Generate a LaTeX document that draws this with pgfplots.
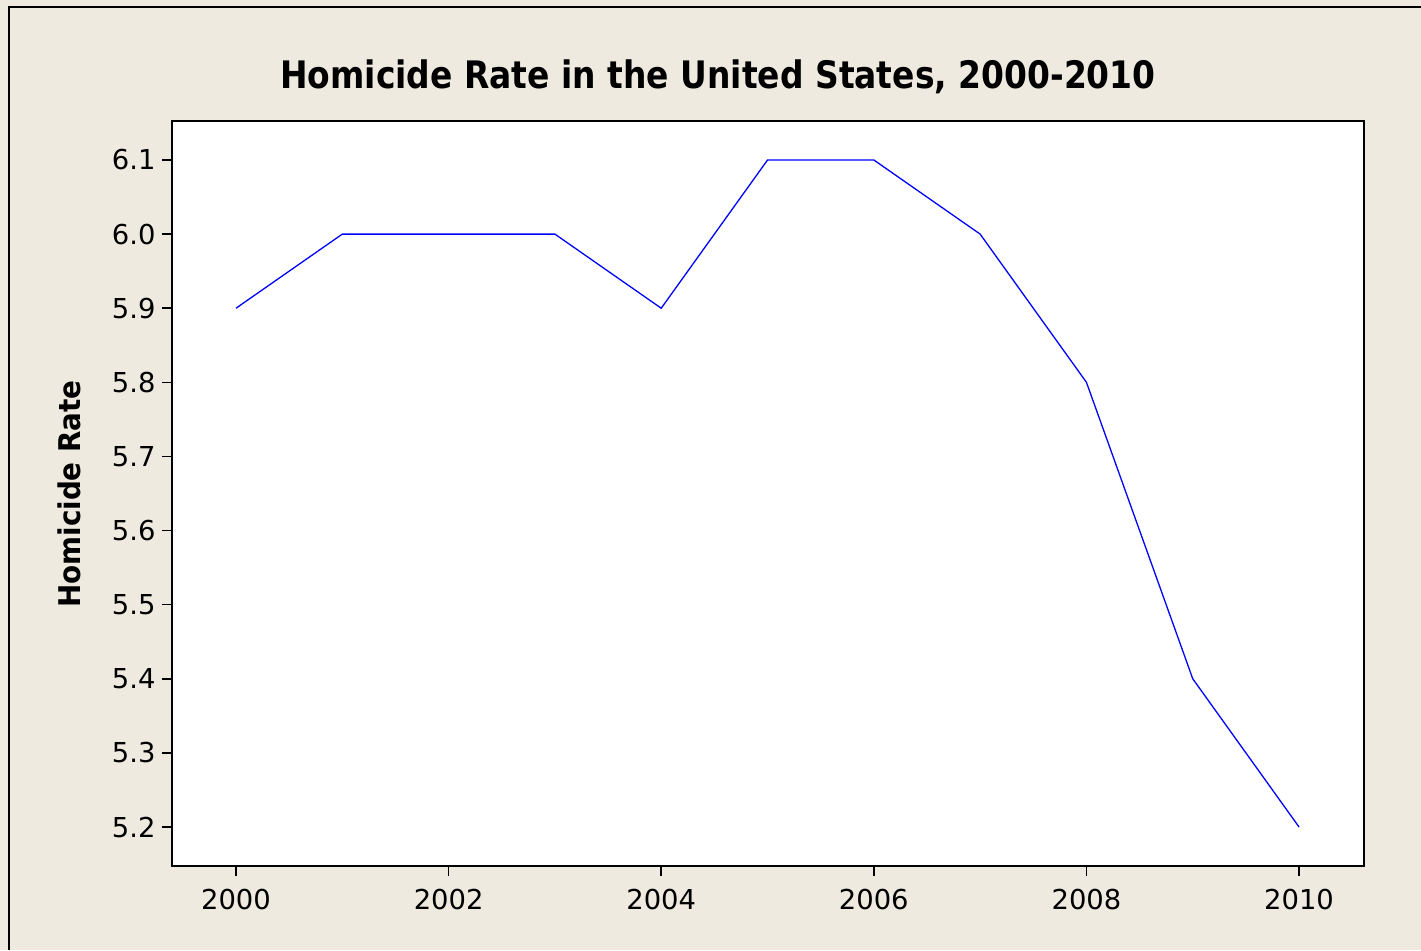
\documentclass[border=0pt]{standalone}
\usepackage{pgfplots}
\pgfplotsset{compat=1.18}
\usepackage{fontspec}
\setmainfont{DejaVu Sans}
\newfontfamily\tickfont{DejaVu Sans}
\newfontfamily\boldfont[FakeStretch=0.87]{DejaVu Sans Bold}
\newfontfamily\labelfont[FakeStretch=0.93]{DejaVu Sans Bold}
\definecolor{bgbeige}{RGB}{238,234,224}
\begin{document}
\begin{tikzpicture}[x=1bp,y=-1bp]
\useasboundingbox (0,0) rectangle (1421,950);
\fill[bgbeige] (0,0) rectangle (1421,950);
\draw[black,line width=2.5bp] (9,950) -- (9,7) -- (1421,7);
\begin{axis}[
  at={(172bp,-866bp)}, anchor=south west,
  scale only axis, width=1192bp, height=745bp,
  xmin=1999.398, xmax=2010.611,
  ymin=5.1474, ymax=6.1526,
  axis background/.style={fill=white},
  axis line style={black,line width=1.8bp},
  xtick={2000,2002,...,2010},
  ytick={5.2,5.3,...,6.15},
  tick align=outside, tick pos=left,
  major tick length=10bp,
  tick style={black,line width=1.5bp},
  xticklabel style={/pgf/number format/1000 sep={}, yshift=-10bp},
  yticklabel style={/pgf/number format/fixed,/pgf/number format/precision=1,/pgf/number format/fixed zerofill, xshift=-3bp},
  /pgf/number format/assume math mode=true,
  tick label style={font=\tickfont\fontsize{27.5}{32}\selectfont, text=black},
]
\addplot[blue, line width=1.3bp] coordinates {
(2000,5.9) (2001,6.0) (2002,6.0) (2003,6.0) (2004,5.9) (2005,6.1) (2006,6.1) (2007,6.0) (2008,5.8) (2009,5.4) (2010,5.2)
};
\end{axis}
\node[anchor=base, font=\boldfont\fontsize{38}{44}\selectfont] at (718,88) {Homicide Rate in the United States, 2000-2010};
\node[rotate=90, font=\labelfont\fontsize{30}{36}\selectfont] at (69,494) {Homicide Rate};
\end{tikzpicture}
\end{document}
